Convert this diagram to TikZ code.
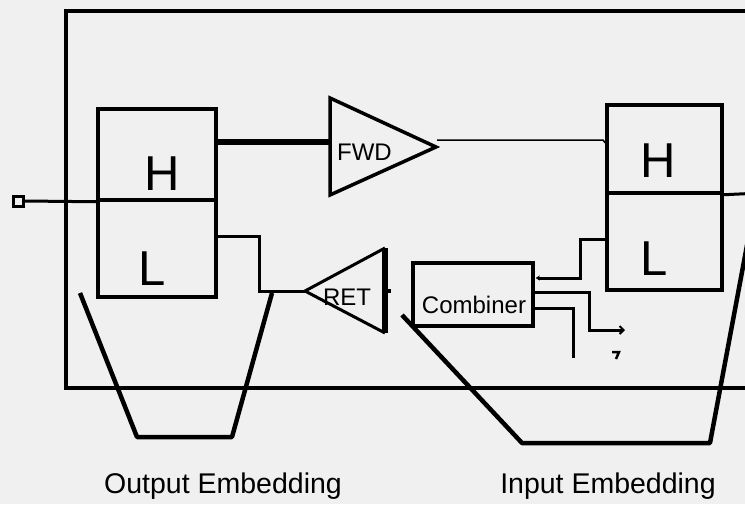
\documentclass[tikz,border=0pt]{standalone}
\usepackage{fontspec}
\setmainfont{Liberation Sans}
\usetikzlibrary{arrows.meta}
\definecolor{paper}{RGB}{240,240,240}
\begin{document}
\begin{tikzpicture}[x=1pt,y=-1pt,
  frame/.style={line width=3.5pt},
  wire/.style={line width=3pt},
  thinwire/.style={line width=1.5pt},
  cell/.style={draw, line width=3.5pt, inner sep=0pt},
  funnel/.style={line width=4.5pt, line join=round},
  amp/.style={line width=3.5pt, line join=miter},
  bigtxt/.style={anchor=base, inner sep=0pt, font=\fontsize{49}{49}\selectfont},
  midtxt/.style={anchor=base, inner sep=0pt, font=\fontsize{24}{24}\selectfont},
  captxt/.style={anchor=base, inner sep=0pt, font=\fontsize{28.5}{28.5}\selectfont}]
\useasboundingbox (0,0) rectangle (745,504);
\fill[paper] (0,0) rectangle (745,504);
\clip (0,0) rectangle (745,504);

% outer frame
\draw[frame] (760,11) -- (66,11) -- (66,388) -- (760,388);

% left H/L block
\node[cell, minimum width=118pt, minimum height=91pt] (lh) at (157,154.5) {};
\node[cell, minimum width=118pt, minimum height=97pt] (ll) at (157,248.5) {};
\node[bigtxt] (lhtxt) at (162,190) {H};
\node[bigtxt] (lltxt) at (152,285) {L};

% input port
\node[draw, line width=3pt, minimum size=10pt, inner sep=0pt, fill=paper] (port) at (18,201) {};
\draw[wire] (port.east) -- (lh.south west);

% right H/L block
\node[cell, minimum width=115pt, minimum height=88pt] (rh) at (664.5,149) {};
\node[cell, minimum width=115pt, minimum height=97pt] (rl) at (664.5,241.5) {};
\node[bigtxt] (rhtxt) at (658,177) {H};
\node[bigtxt] (rltxt) at (654,275) {L};
\draw[wire] (rh.south east) -- (760,193);

% FWD amplifier
\coordinate (fwdA) at (330,98);
\coordinate (fwdB) at (330,195);
\coordinate (fwdT) at (436,147);
\draw[amp] (fwdA) -- (fwdT) -- (fwdB) -- cycle;
\node[midtxt] (fwdtxt) at (364.5,160) {FWD};
\coordinate (fwdin) at (330,142);
\draw[line width=5.5pt] (lh.east |- fwdin) -- (fwdin);
\coordinate (fwdout) at (437,140);
\draw[thinwire] (fwdout) -- (603,140) -- (rh.west |- 0,143);

% RET amplifier
\coordinate (retT) at (305,291);
\coordinate (retA) at (385,248);
\coordinate (retB) at (385,333);
\draw[amp, line width=3pt] (retA) -- (retT) -- (retB);
\draw[line width=5.5pt] (retA) -- (retB);
\draw[line width=4.5pt] (retA |- retT) -- ++(6,0);
\node[midtxt] (rettxt) at (347,305) {RET};
\draw[wire] (ll.east |- 0,236) -- (259,236) -- (259,291) -- (retT);

% Combiner
\node[cell, minimum width=120pt, minimum height=63pt] (comb) at (473,294.5) {};
\node[midtxt] (combtxt) at (474,313) {Combiner};
\draw[wire, -{Stealth[length=4pt,width=5pt]}] (rl.west |- 0,239) -- (580,239) -- (580,278) -- ([xshift=1pt]comb.east |- 0,278);
\draw[wire, -{Straight Barb[length=4pt,width=8pt,line width=2pt]}] (comb.east |- 0,292) -- (589,292) -- (589,330) -- (625,330);
\draw[wire] (comb.east |- 0,308) -- (573,308) -- (573,358);
\draw[line width=2.5pt] (612,352) -- (619,352) -- (616,359);

% embedding funnels
\draw[funnel] (80,293) -- (137,437) -- (232,437) -- (272,293);
\draw[funnel] (402,315) -- (522,443) -- (710,443) -- (748,240);
\node[captxt] (outlbl) at (223,493) {Output Embedding};
\node[captxt] (inlbl) at (608,493) {Input Embedding};
\end{tikzpicture}
\end{document}
